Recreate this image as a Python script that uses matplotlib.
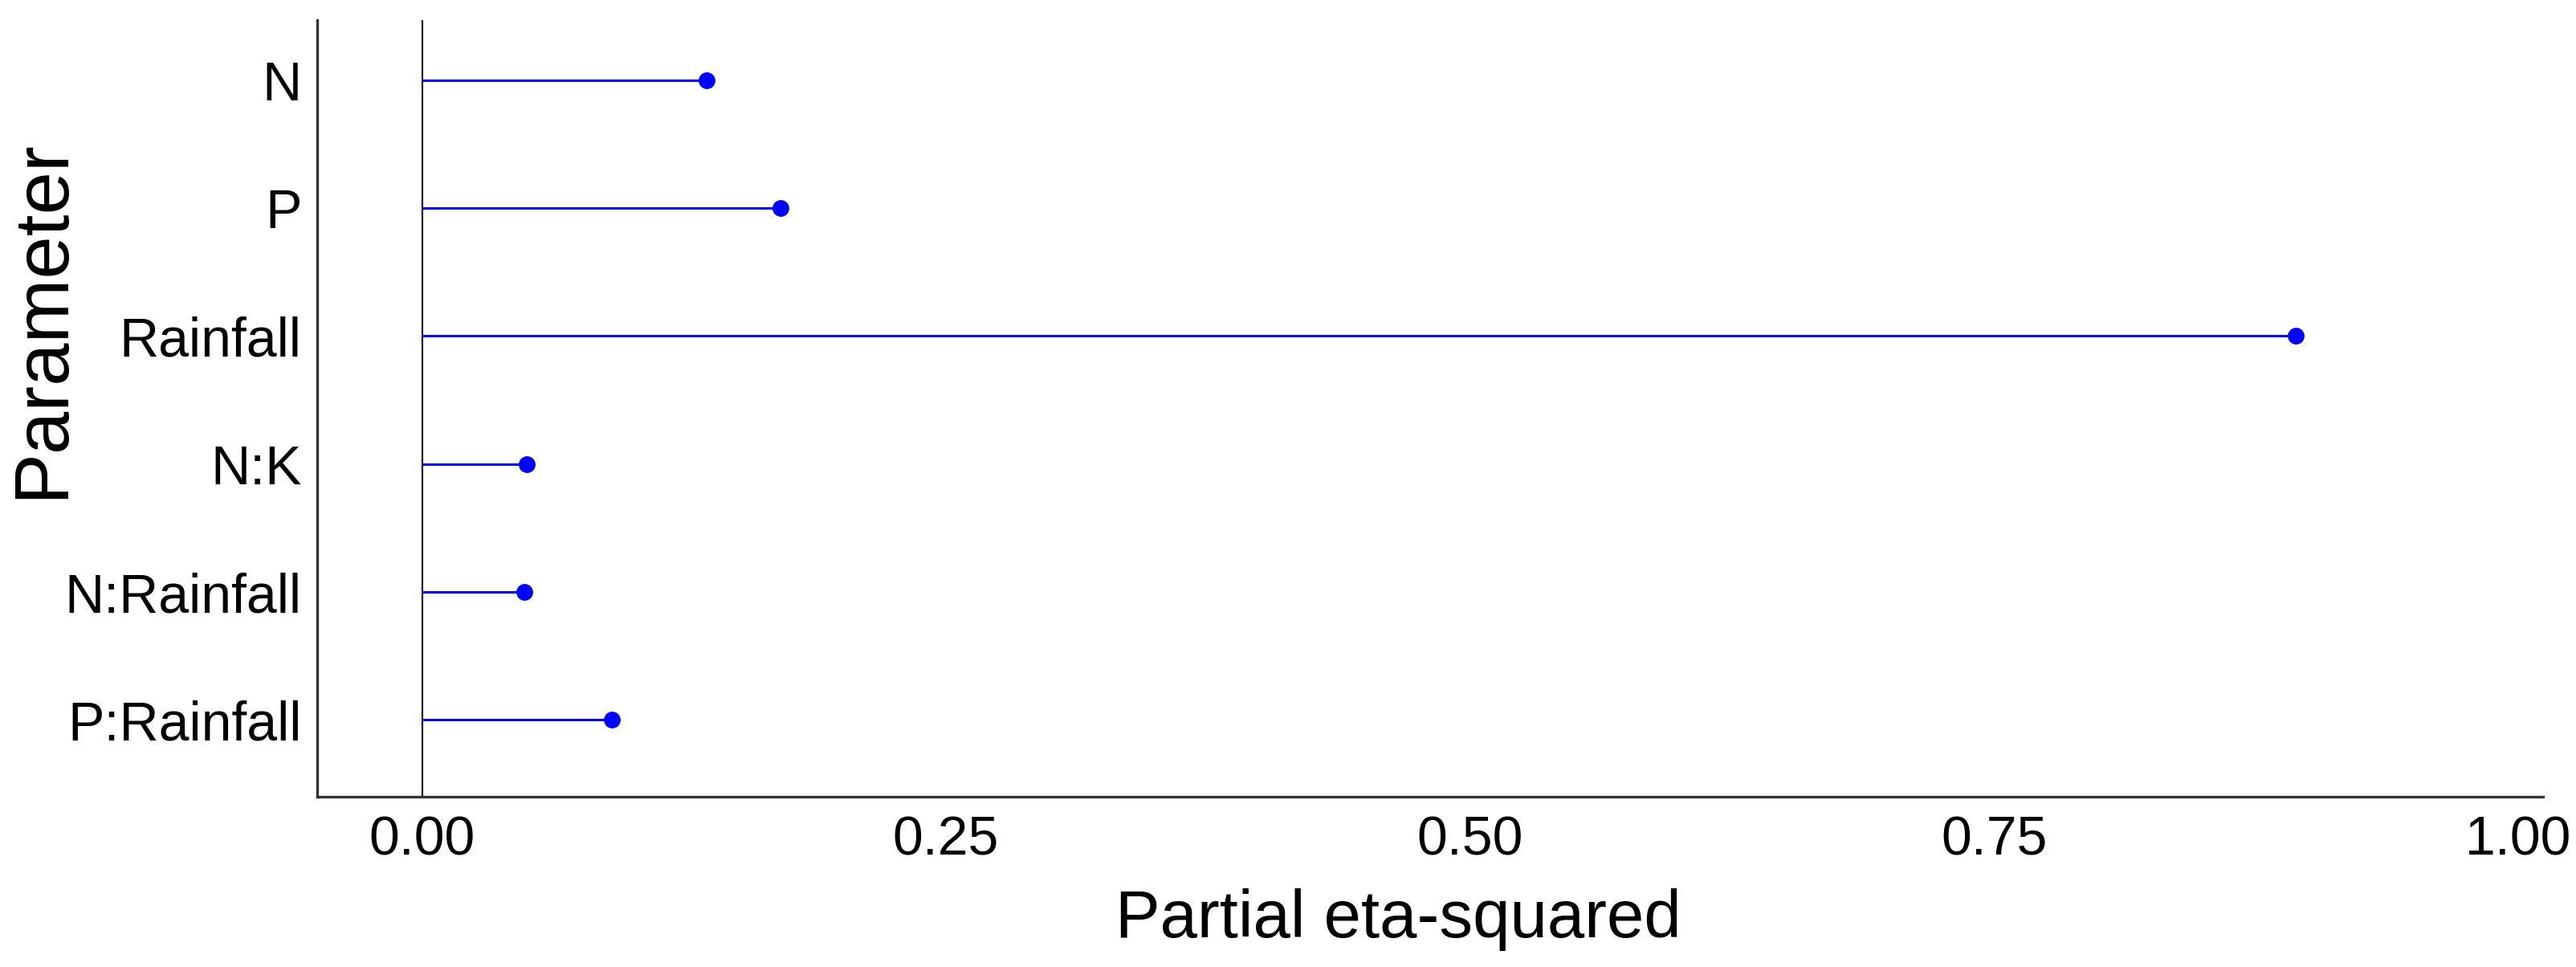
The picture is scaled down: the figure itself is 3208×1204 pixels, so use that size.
import matplotlib
matplotlib.use("Agg")
import matplotlib.pyplot as plt
import numpy as np

plt.rcParams['font.family'] = ['Liberation Sans', 'DejaVu Sans']

# effect sizes, listed top to bottom as in the chart
parameters = ["N", "P", "Rainfall", "N:K", "N:Rainfall", "P:Rainfall"]
eta_sq = [0.136, 0.171, 0.894, 0.050, 0.049, 0.0905]
x_ticks = [0.00, 0.25, 0.50, 0.75, 1.00]
x_tick_labels = ["0.00", "0.25", "0.50", "0.75", "1.00"]

W, H, DPI = 3208, 1204, 200
fig = plt.figure(figsize=(W / DPI, H / DPI), dpi=DPI)
ax = fig.add_axes([395 / W, 1 - 992 / H, (3167 - 395) / W, (992 - 25) / H])

ypos = np.arange(len(parameters))[::-1] + 1

ax.axvline(0, color="black", lw=0.75, zorder=1)
ax.hlines(ypos, 0, eta_sq, color="#0000ff", lw=1.1, zorder=2)
ax.plot(eta_sq, ypos, "o", color="#0000ff", ms=6.5, zorder=3)

ax.set_xlim(-0.05, 1.012)
ax.set_ylim(0.4, len(parameters) + 0.47)
ax.set_xticks(x_ticks)
ax.set_xticklabels(x_tick_labels)
ax.set_yticks(ypos)
ax.set_yticklabels(parameters)
ax.tick_params(axis="both", length=0, labelsize=24.5, colors="black")
ax.tick_params(axis="x", pad=8)
ax.tick_params(axis="y", pad=7)

for side in ["top", "right"]:
    ax.spines[side].set_visible(False)
for side in ["left", "bottom"]:
    ax.spines[side].set_color("#333333")
    ax.spines[side].set_linewidth(1.2)

fig.text(1741 / W, 1 - 1167 / H, "Partial eta-squared", fontsize=30,
         ha="center", va="baseline")
fig.text(78 / W, 1 - 397 / H, "Parameter", fontsize=34.5, rotation=90,
         rotation_mode="anchor", ha="center", va="baseline")

plt.savefig("out.png", dpi=DPI)
plt.close()
